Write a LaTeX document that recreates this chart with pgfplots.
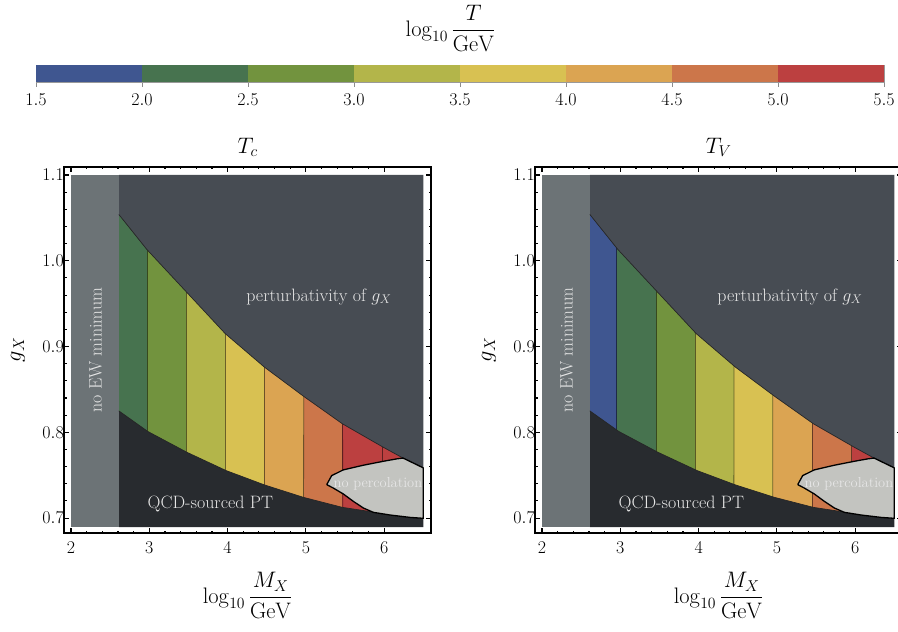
\RequirePackage{fix-cm}
\documentclass[border=0pt]{standalone}
\usepackage{amsmath}
\usepackage{pgfplots}
\pgfplotsset{compat=1.18}

\definecolor{cBlue}{HTML}{3F5690}
\definecolor{cDG}{HTML}{47734F}
\definecolor{cOl}{HTML}{72933E}
\definecolor{cYG}{HTML}{B3B54A}
\definecolor{cYe}{HTML}{D8C152}
\definecolor{cOr}{HTML}{DBA452}
\definecolor{cDO}{HTML}{CC764A}
\definecolor{cRe}{HTML}{BC4040}
\definecolor{cBand}{HTML}{6C7376}
\definecolor{cTop}{HTML}{474C53}
\definecolor{cBot}{HTML}{282B2F}
\definecolor{cNP}{HTML}{C3C4C0}
\definecolor{cTxt}{HTML}{E6E6E6}

\newcommand{\tfnt}{\fontsize{18}{21.6}\selectfont}
\newcommand{\lfnt}{\fontsize{22.5}{27}\selectfont}

\pgfplotsset{
  mainax/.style={
    scale only axis, width=366.7bp, height=366bp, anchor=south west,
    xmin=1.914, xmax=6.598, ymin=0.6826, ymax=1.1093,
    xtick={2,3,4,5,6}, ytick={0.7,0.8,0.9,1.0,1.1},
    minor x tick num=4, minor y tick num=4,
    tick align=inside,
    major tick length=5bp, minor tick length=2.5bp,
    every tick/.append style={black, line width=1.1bp},
    axis line style={black, line width=2bp},
    tick label style={font=\tfnt},
    yticklabel style={/pgf/number format/fixed, /pgf/number format/fixed zerofill, /pgf/number format/precision=1, xshift=3bp},
    xticklabel style={yshift=-5bp},
    xlabel={$\log_{10}\dfrac{M_X}{\mathrm{GeV}}$},
    xlabel style={at={(axis description cs:0.5,0)}, anchor=base, yshift=-70bp, font=\lfnt},
    ylabel={$g_X$},
    ylabel style={at={(axis description cs:-0.126,0.5)}, anchor=center, font=\lfnt},
    title style={at={(axis description cs:0.5,1)}, anchor=base, yshift=7.7bp, font=\lfnt},
  },
  cline/.style={draw=black, draw opacity=0.5, line width=0.8bp},
}

\newcommand{\overlays}{%
  % perturbativity region (above upper boundary)
  \addplot[fill=cTop, draw=none] coordinates {(2.61,1.1) (6.5,1.1) (6.5,0.7585) (6.24,0.770) (5.98,0.783) (5.465,0.810) (4.97,0.842) (4.47,0.876) (3.97,0.915) (3.47,0.964) (2.97,1.013) (2.61,1.054)};
  % QCD-sourced PT region (below lower boundary)
  \addplot[fill=cBot, draw=none] coordinates {(2.61,0.6895) (6.5,0.6895) (6.5,0.6997) (6.2,0.703) (5.9,0.7065) (5.465,0.7125) (4.967,0.7242) (4.469,0.7387) (3.98,0.7554) (3.478,0.7768) (2.98,0.801) (2.61,0.825)};
  % no EW minimum band
  \addplot[fill=cBand, draw=none] coordinates {(2,0.6895) (2.61,0.6895) (2.61,1.1) (2,1.1)};
  % boundary curves
  \addplot[draw=black!85, line width=0.7bp] coordinates {(2.61,1.054) (2.97,1.013) (3.47,0.964) (3.97,0.915) (4.47,0.876) (4.97,0.842) (5.465,0.810) (5.98,0.783) (6.24,0.770) (6.5,0.7585)};
  \addplot[draw=black!85, line width=0.7bp] coordinates {(2.61,0.825) (2.98,0.801) (3.478,0.7768) (3.98,0.7554) (4.469,0.7387) (4.967,0.7242) (5.465,0.7125) (5.9,0.7065) (6.2,0.703) (6.5,0.6997)};
  % no percolation region
  \addplot[fill=cNP, draw=black, line width=1.3bp, line join=round] coordinates {(5.266,0.739) (5.329,0.7495) (5.478,0.7562) (5.733,0.7616) (5.989,0.7662) (6.159,0.769) (6.24,0.770) (6.5,0.7585) (6.5,0.6997) (6.33,0.7008) (6.074,0.7036) (5.861,0.7067) (5.733,0.7118) (5.606,0.7195) (5.478,0.7281) (5.35,0.735) (5.266,0.739)};
  % labels
  \node[anchor=base, text=cTxt, font=\tfnt] at (axis cs:5.167,0.9528) {perturbativity of $g_X$};
  \node[anchor=base, text=cTxt, font=\tfnt] at (axis cs:3.78,0.7106) {QCD-sourced PT};
  \node[anchor=base, text=cTxt, font=\fontsize{14.5}{17.4}\selectfont] at (axis cs:5.92,0.7362) {no percolation};
  \node[anchor=base, rotate=90, text=cTxt, font=\tfnt] at (axis cs:2.39,0.8956) {no EW minimum};
}

\begin{document}
\begin{tikzpicture}
\useasboundingbox (0,0) rectangle (898bp,632bp);

% ---------- colour bar ----------
\begin{axis}[
  at={(36bp,550bp)}, anchor=south west, scale only axis,
  width=848bp, height=17bp,
  xmin=1.5, xmax=5.5, ymin=0, ymax=1,
  xtick={1.5,2.0,2.5,3.0,3.5,4.0,4.5,5.0,5.5}, ytick=\empty,
  xtick pos=bottom, tick align=outside, major tick length=5bp,
  every tick/.append style={black!45, line width=0.6bp},
  axis line style={black!40, line width=0.8bp},
  tick label style={font=\tfnt},
  xticklabel style={/pgf/number format/fixed, /pgf/number format/fixed zerofill, /pgf/number format/precision=1, yshift=-3bp},
  title={$\log_{10}\dfrac{T}{\mathrm{GeV}}$},
  title style={at={(axis description cs:0.5,1)}, anchor=base, yshift=23bp, xshift=-9.5bp, font=\lfnt},
]
\addplot[fill=cBlue, draw=none] coordinates {(1.5,0) (2.0,0) (2.0,1) (1.5,1)};
\addplot[fill=cDG, draw=none] coordinates {(2.0,0) (2.5,0) (2.5,1) (2.0,1)};
\addplot[fill=cOl, draw=none] coordinates {(2.5,0) (3.0,0) (3.0,1) (2.5,1)};
\addplot[fill=cYG, draw=none] coordinates {(3.0,0) (3.5,0) (3.5,1) (3.0,1)};
\addplot[fill=cYe, draw=none] coordinates {(3.5,0) (4.0,0) (4.0,1) (3.5,1)};
\addplot[fill=cOr, draw=none] coordinates {(4.0,0) (4.5,0) (4.5,1) (4.0,1)};
\addplot[fill=cDO, draw=none] coordinates {(4.5,0) (5.0,0) (5.0,1) (4.5,1)};
\addplot[fill=cRe, draw=none] coordinates {(5.0,0) (5.5,0) (5.5,1) (5.0,1)};
\end{axis}

% ---------- left panel: T_c ----------
\begin{axis}[mainax, at={(64.3bp,99bp)}, title={$T_c$}]
\addplot[fill=cDG, draw=none] coordinates {(2.61,0.695) (2.97,0.695) (2.97,1.095) (2.61,1.095)};
\addplot[fill=cOl, draw=none] coordinates {(2.97,0.695) (3.47,0.695) (3.47,1.095) (2.97,1.095)};
\addplot[fill=cYG, draw=none] coordinates {(3.47,0.695) (3.97,0.695) (3.97,1.095) (3.47,1.095)};
\addplot[fill=cYe, draw=none] coordinates {(3.97,0.695) (4.47,0.695) (4.47,1.095) (3.97,1.095)};
\addplot[fill=cOr, draw=none] coordinates {(4.47,0.695) (4.97,0.695) (4.97,1.095) (4.47,1.095)};
\addplot[fill=cDO, draw=none] coordinates {(4.97,0.695) (5.465,0.695) (5.465,1.095) (4.97,1.095)};
\addplot[fill=cRe, draw=none] coordinates {(5.465,0.695) (6.5,0.695) (6.5,1.095) (5.465,1.095)};
\addplot[cline] coordinates {(2.97,0.695) (2.97,1.095)};
\addplot[cline] coordinates {(3.47,0.695) (3.47,1.095)};
\addplot[cline] coordinates {(3.97,0.695) (3.97,1.095)};
\addplot[cline] coordinates {(4.47,0.695) (4.475,1.095)};
\addplot[cline] coordinates {(4.97,0.695) (4.975,1.095)};
\addplot[cline] coordinates {(5.47,0.695) (5.465,1.095)};
\addplot[cline] coordinates {(5.98,0.695) (5.98,1.095)};
\overlays
\end{axis}

% ---------- right panel: T_V ----------
\begin{axis}[mainax, at={(535.3bp,99bp)}, title={$T_V$}]
\addplot[fill=cBlue, draw=none] coordinates {(2.61,0.695) (2.955,0.695) (2.955,1.095) (2.61,1.095)};
\addplot[fill=cDG, draw=none] coordinates {(2.955,0.695) (3.455,0.695) (3.455,1.095) (2.955,1.095)};
\addplot[fill=cOl, draw=none] coordinates {(3.455,0.695) (3.955,0.695) (3.955,1.095) (3.455,1.095)};
\addplot[fill=cYG, draw=none] coordinates {(3.955,0.695) (4.45,0.695) (4.45,1.095) (3.955,1.095)};
\addplot[fill=cYe, draw=none] coordinates {(4.45,0.695) (4.946,0.695) (4.946,1.095) (4.45,1.095)};
\addplot[fill=cOr, draw=none] coordinates {(4.946,0.695) (5.45,0.695) (5.45,1.095) (4.946,1.095)};
\addplot[fill=cDO, draw=none] coordinates {(5.45,0.695) (5.955,0.695) (5.955,1.095) (5.45,1.095)};
\addplot[fill=cRe, draw=none] coordinates {(5.955,0.695) (6.5,0.695) (6.5,1.095) (5.955,1.095)};
\addplot[cline] coordinates {(2.955,0.695) (2.955,1.095)};
\addplot[cline] coordinates {(3.455,0.695) (3.455,1.095)};
\addplot[cline] coordinates {(3.955,0.695) (3.955,1.095)};
\addplot[cline] coordinates {(4.45,0.695) (4.455,1.095)};
\addplot[cline] coordinates {(4.946,0.695) (4.95,1.095)};
\addplot[cline] coordinates {(5.45,0.695) (5.45,1.095)};
\addplot[cline] coordinates {(5.955,0.695) (5.955,1.095)};
\overlays
\end{axis}
\end{tikzpicture}
\end{document}
